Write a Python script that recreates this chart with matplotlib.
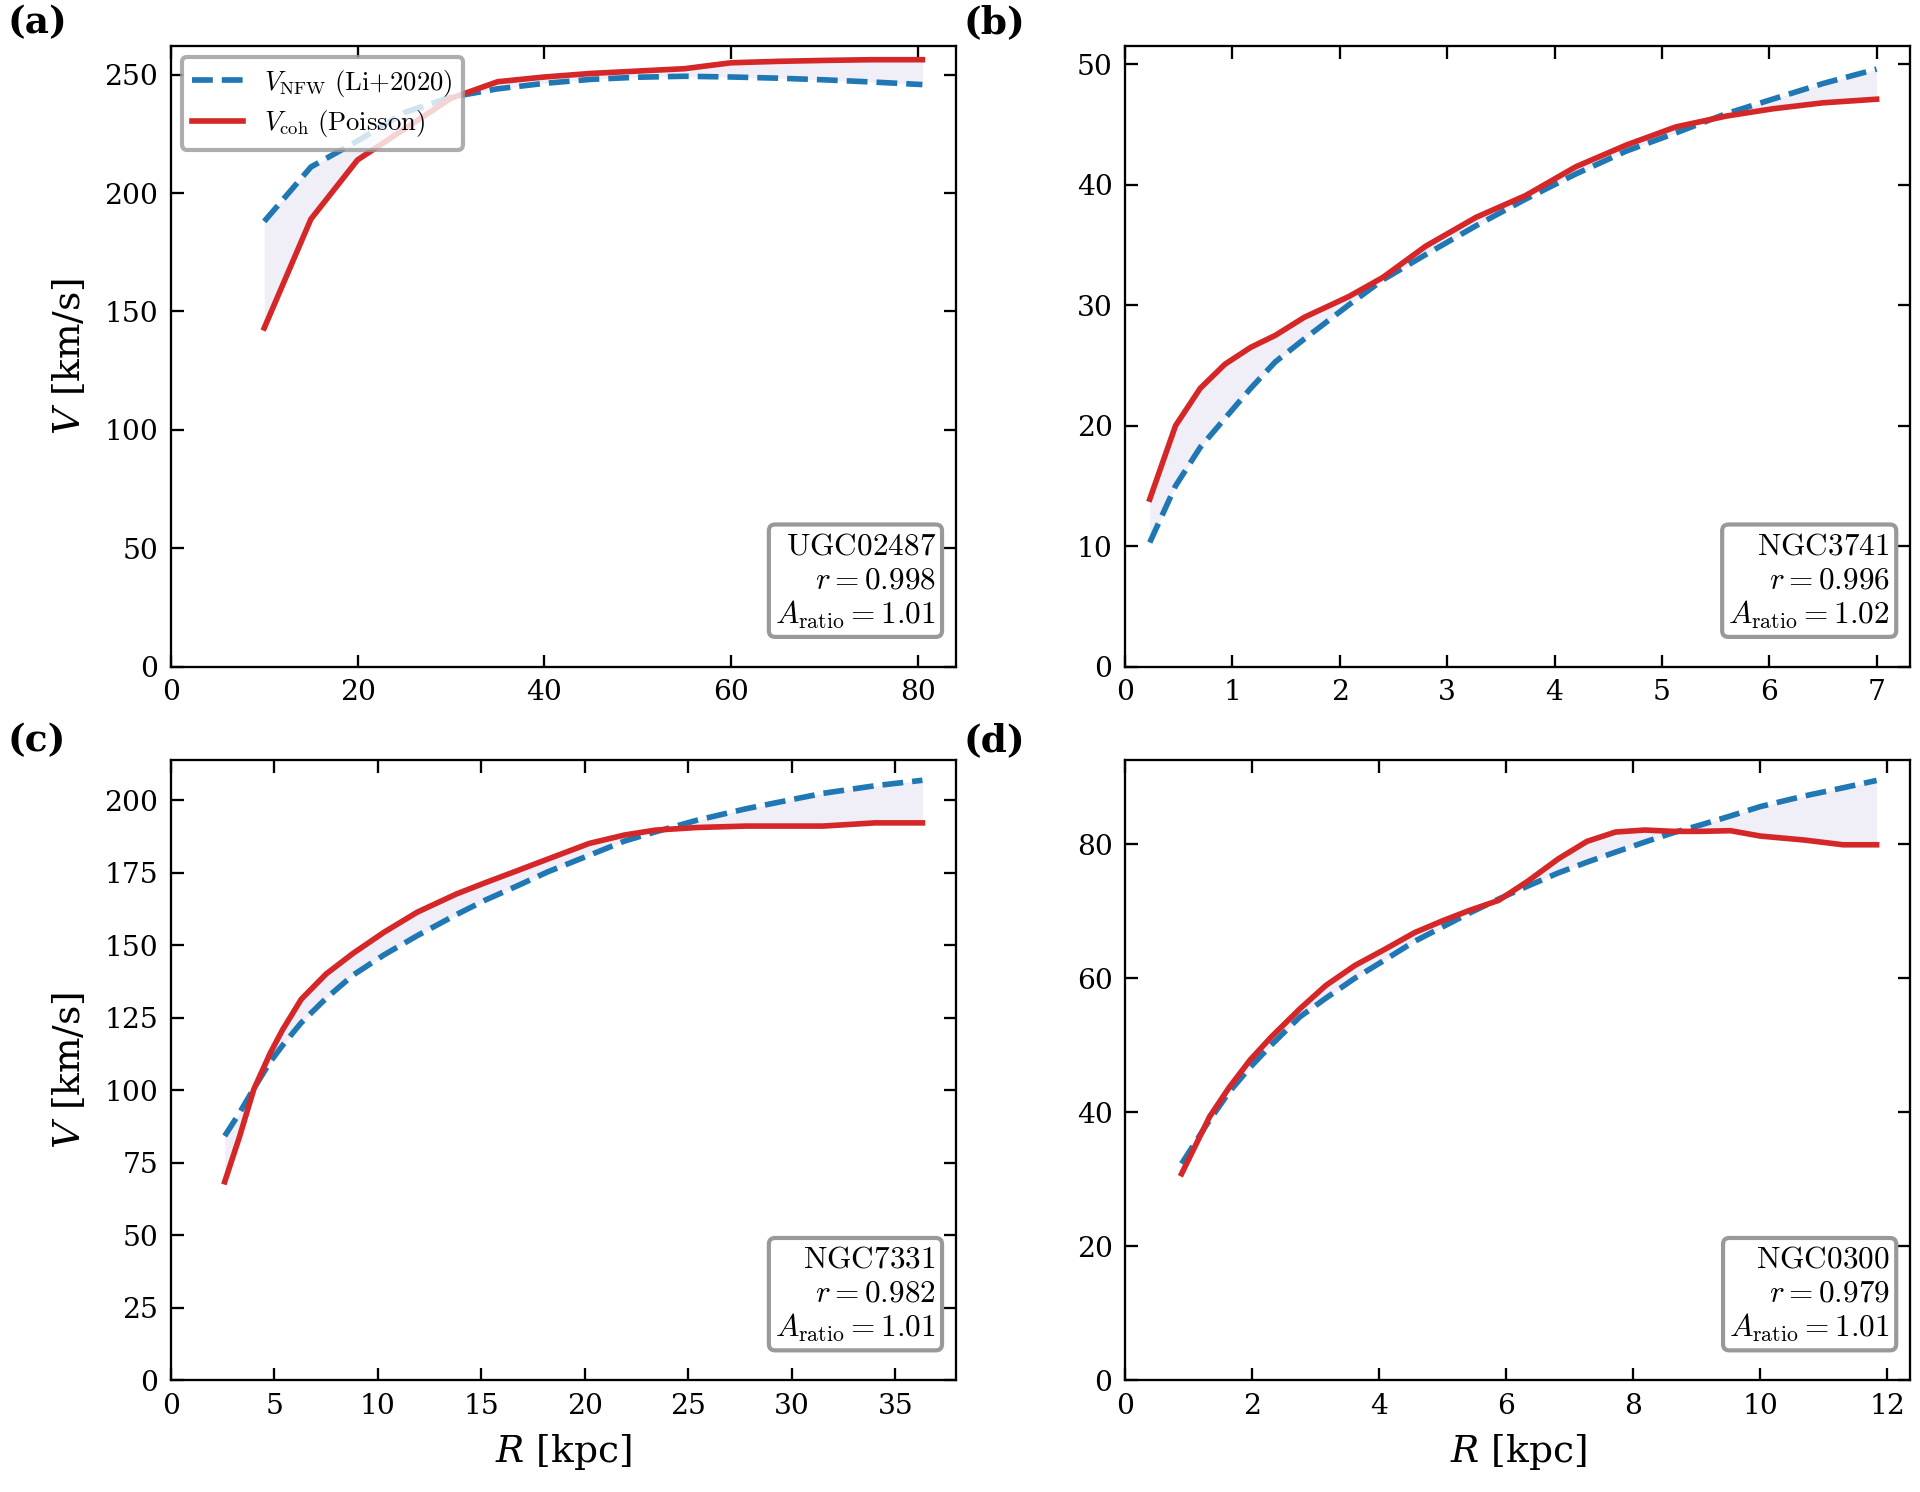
import matplotlib
matplotlib.use("Agg")
import matplotlib.pyplot as plt
from matplotlib.font_manager import FontProperties
from matplotlib.ticker import MultipleLocator
import numpy as np

plt.rcParams['font.family'] = 'DejaVu Serif'
plt.rcParams['mathtext.fontset'] = 'dejavuserif'

# (a) UGC02487
R_a = [10, 15, 20, 25, 30, 35, 40, 45, 50, 55, 60, 65, 70, 75, 80.5]
nfw_a = [188, 211, 222, 234, 240.5, 244, 246.3, 248, 248.9, 249.3, 249, 248.5, 247.8, 246.9, 245.8]
coh_a = [143, 189, 214, 227, 240, 247, 249, 250.5, 251.5, 252.5, 255, 255.6, 256, 256.3, 256.3]

# (b) NGC3741
R_b = [0.23, 0.47, 0.70, 0.93, 1.17, 1.40, 1.67, 2.08, 2.40, 2.80, 3.27, 3.73, 4.20, 4.67, 5.13, 5.60, 6.03, 6.50, 7.0]
nfw_b = [10.3, 15.0, 18.2, 20.6, 23.1, 25.3, 27.2, 30.0, 32.1, 34.2, 36.6, 38.8, 40.9, 42.8, 44.3, 45.9, 47.1, 48.4, 49.6]
coh_b = [13.9, 20.0, 23.1, 25.1, 26.5, 27.5, 29.0, 30.7, 32.3, 34.9, 37.3, 39.1, 41.5, 43.3, 44.8, 45.7, 46.3, 46.8, 47.1]

# (c) NGC7331
R_c = [2.6, 3.3, 4.0, 4.8, 5.4, 6.3, 7.5, 8.8, 10.3, 11.9, 13.8, 15.2, 16.8, 18.2, 20.2, 21.9, 23.4, 25.4, 27.8, 31.5, 34.0, 36.3]
nfw_c = [84.2, 92, 100.5, 109.8, 115.5, 123.3, 131.7, 139.7, 146.7, 153.3, 160.6, 165.6, 170.7, 175.3, 181, 185.9, 189.1, 193.1, 197.1, 202.4, 205.0, 206.9]
coh_c = [68.4, 83.6, 100.2, 112.8, 120.9, 131.4, 140.1, 147.2, 154.5, 161.4, 167.7, 171.6, 175.9, 179.7, 185.1, 188.0, 189.7, 190.6, 191.1, 191.1, 192.2, 192.2]

# (d) NGC0300
R_d = [0.89, 1.33, 1.64, 1.97, 2.30, 2.75, 3.16, 3.62, 4.07, 4.56, 5.01, 5.42, 5.88, 6.33, 6.82, 7.27, 7.72, 8.18, 8.63, 9.04, 9.53, 10.0, 10.7, 11.3, 11.83]
nfw_d = [32.3, 38.8, 43.0, 46.7, 50.0, 54.2, 57.0, 60.0, 62.6, 65.5, 67.7, 69.7, 71.8, 73.7, 75.7, 77.3, 78.8, 80.3, 81.7, 82.8, 84.2, 85.6, 87.2, 88.4, 89.5]
coh_d = [30.8, 39.3, 43.7, 47.8, 51.2, 55.4, 58.9, 61.9, 64.2, 66.8, 68.6, 70.1, 71.6, 74.4, 77.8, 80.4, 81.8, 82.1, 81.9, 81.9, 82.0, 81.2, 80.6, 79.9, 79.9]

names = ['UGC02487', 'NGC3741', 'NGC7331', 'NGC0300']
r_vals = ['0.998', '0.996', '0.982', '0.979']
a_vals = ['1.01', '1.02', '1.01', '1.01']
letters = ['(a)', '(b)', '(c)', '(d)']
x_steps = [20, 1, 5, 2]
y_tops = [262, 51.5, 214, 92.6]

panels = [(R_a, nfw_a, coh_a), (R_b, nfw_b, coh_b), (R_c, nfw_c, coh_c), (R_d, nfw_d, coh_d)]

fig, axes = plt.subplots(2, 2, figsize=(12.8, 9.947), dpi=150)
fig.subplots_adjust(left=0.089, right=0.995, top=0.969, bottom=0.075, wspace=0.215, hspace=0.15)

cm_prop = FontProperties(family='DejaVu Serif', size=12.8, math_fontfamily='cm')

label_pos = [(0.004, 0.997), (0.502, 0.997), (0.004, 0.516), (0.502, 0.516)]

for i, ax in enumerate(axes.flat):
    R, nfw, coh = panels[i]
    R = np.array(R); nfw = np.array(nfw); coh = np.array(coh)
    ax.fill_between(R, nfw, coh, color='#efedf5', alpha=0.9, lw=0, zorder=1)
    ax.plot(R, nfw, ls='--', color='#1f77b4', lw=2.7, label=r'$V_{\rm NFW}\ \mathrm{(Li{+}2020)}$', zorder=3)
    ax.plot(R, coh, ls='-', color='#d62728', lw=2.7, label=r'$V_{\rm coh}\ \mathrm{(Poisson)}$', zorder=3)
    ax.set_xlim(0, R.max() * 1.045)
    ax.set_ylim(0, y_tops[i])
    ax.xaxis.set_major_locator(MultipleLocator(x_steps[i]))
    ax.tick_params(direction='in', top=True, right=True, length=6, width=1.1, labelsize=13.5, pad=6)
    for s in ax.spines.values():
        s.set_linewidth(1.1)
    txt = (r'$\mathrm{' + names[i] + r'}$' + '\n' + r'$r = ' + r_vals[i] + r'$' + '\n'
           + r'$A_{\rm ratio} = ' + a_vals[i] + r'$')
    ax.text(0.974, 0.058, txt, transform=ax.transAxes, ha='right', va='bottom',
            fontsize=15, math_fontfamily='cm', linespacing=1.12, zorder=5,
            bbox=dict(boxstyle='round,pad=0.2', fc='white', ec='#999999', lw=2))
    fig.text(label_pos[i][0], label_pos[i][1], letters[i], fontsize=18,
             fontweight='bold', ha='left', va='top')
    if i % 2 == 0:
        ax.set_ylabel(r'$V$ [km/s]', fontsize=18, labelpad=8)
    if i >= 2:
        ax.set_xlabel(r'$R$ [kpc]', fontsize=18, labelpad=6)

leg = axes[0, 0].legend(loc='upper left', prop=cm_prop, framealpha=0.8, edgecolor='#999999',
                        fancybox=True, handlelength=1.9, labelspacing=0.35, borderaxespad=0.4)
leg.get_frame().set_linewidth(2)

fig.savefig('out.png', dpi=150)
